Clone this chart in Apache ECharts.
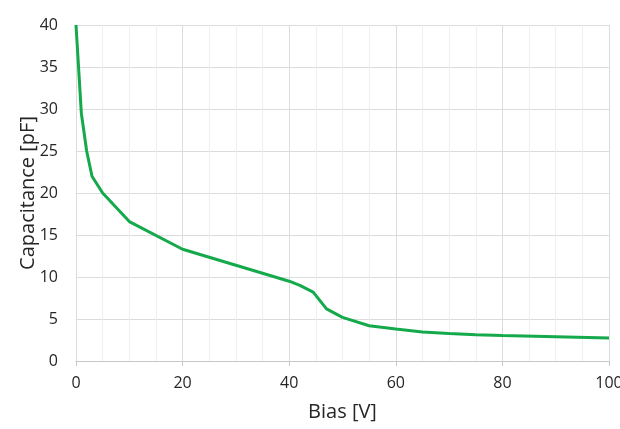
<!DOCTYPE html>
<html>
<head>
<meta charset="utf-8">
<script src="https://cdn.jsdelivr.net/npm/echarts@6/dist/echarts.min.js"></script>
<style>
  html, body { margin: 0; padding: 0; background: #ffffff; }
  #chart { width: 620px; height: 429px; }
</style>
</head>
<body>
<div id="chart"></div>
<script>
// Capacitance versus reverse bias
const biasV = [0, 1, 2, 3, 5, 10, 20, 30, 40, 42, 44.5, 47, 50, 55, 60, 65, 70, 75, 80, 90, 100];
const capacitancePF = [40, 29.5, 25, 22, 20, 16.6, 13.3, 11.4, 9.5, 9.0, 8.2, 6.2, 5.2, 4.2, 3.8, 3.45, 3.28, 3.13, 3.05, 2.9, 2.74];
const xTicks = [0, 20, 40, 60, 80, 100];
const yTicks = [0, 5, 10, 15, 20, 25, 30, 35, 40];

const points = biasV.map((v, i) => [v, capacitancePF[i]]);
const fontFamily = '"Open Sans", "Liberation Sans", sans-serif';
const textColor = '#262626';

const chart = echarts.init(document.getElementById('chart'), null, { renderer: 'canvas' });
chart.setOption({
  animation: false,
  backgroundColor: '#ffffff',
  grid: { left: 76, right: 11, top: 25, bottom: 68, containLabel: false, outerBoundsMode: 'none' },
  xAxis: {
    type: 'value',
    min: xTicks[0],
    max: xTicks[xTicks.length - 1],
    interval: xTicks[1] - xTicks[0],
    name: 'Bias [V]',
    nameLocation: 'middle',
    nameGap: 41,
    nameMoveOverlap: false,
    nameTextStyle: { fontFamily, fontSize: 20, color: textColor },
    axisLine: { show: true, onZero: false, lineStyle: { color: '#c8c8c8', width: 1 } },
    axisTick: { show: true, length: 5, lineStyle: { color: '#c8c8c8' } },
    axisLabel: { fontFamily, fontSize: 16, color: textColor, margin: 14 },
    splitLine: { show: true, lineStyle: { color: '#dcdcdc', width: 1 } },
    minorTick: { show: false, splitNumber: 4 },
    minorSplitLine: { show: true, lineStyle: { color: '#efefef', width: 1 } }
  },
  yAxis: {
    type: 'value',
    min: yTicks[0],
    max: yTicks[yTicks.length - 1],
    interval: yTicks[1] - yTicks[0],
    name: 'Capacitance [pF]',
    nameLocation: 'middle',
    nameGap: 38,
    nameMoveOverlap: false,
    nameRotate: 90,
    nameTextStyle: { fontFamily, fontSize: 20, color: textColor },
    axisLine: { show: false },
    axisTick: { show: false },
    axisLabel: { fontFamily, fontSize: 16, color: textColor, margin: 18 },
    splitLine: { show: true, lineStyle: { color: '#dcdcdc', width: 1 } }
  },
  series: [{
    type: 'line',
    data: points,
    showSymbol: false,
    smooth: false,
    lineStyle: { color: '#14a94b', width: 3 },
    itemStyle: { color: '#14a94b' },
    clip: false
  }]
});
</script>
</body>
</html>
